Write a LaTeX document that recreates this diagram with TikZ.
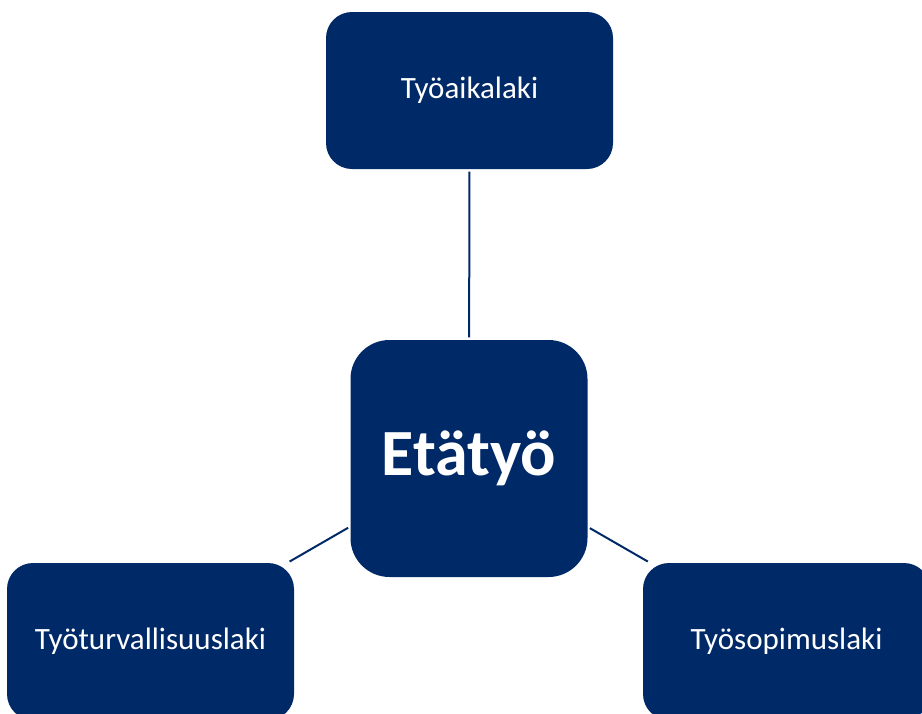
\documentclass[tikz,border=0pt]{standalone}
\usepackage{fontspec}
\setmainfont{Carlito}
\definecolor{navy}{RGB}{0,41,104}
\begin{document}
\begin{tikzpicture}[x=1pt,y=-1pt,
  leaf/.style={fill=navy,draw=none,rectangle,rounded corners=26pt,minimum width=287pt,minimum height=157pt,inner sep=0pt,text=white,font=\fontsize{31}{36}\selectfont},
  hub/.style={fill=navy,draw=none,rectangle,rounded corners=39pt,minimum width=237pt,minimum height=237pt,inner sep=0pt,text=white,font=\fontsize{66}{72}\selectfont\bfseries},
  link/.style={draw=navy,line width=2pt,shorten <=2.5pt,shorten >=2.5pt}]
\useasboundingbox (0,0) rectangle (922,713);
\clip (0,0) rectangle (922,713);
\node[hub] (c) at (469,458.5) {Etätyö};
\node[leaf] (t) at (469.5,90.5) {Työaikalaki};
\node[leaf] (l) at (150.5,641.5) {Työturvallisuuslaki};
\node[leaf] (r) at (786.5,641.5) {Työsopimuslaki};
\draw[link] (t) -- (c);
\draw[link] (c) -- (l);
\draw[link] (c) -- (r);
\end{tikzpicture}
\end{document}
